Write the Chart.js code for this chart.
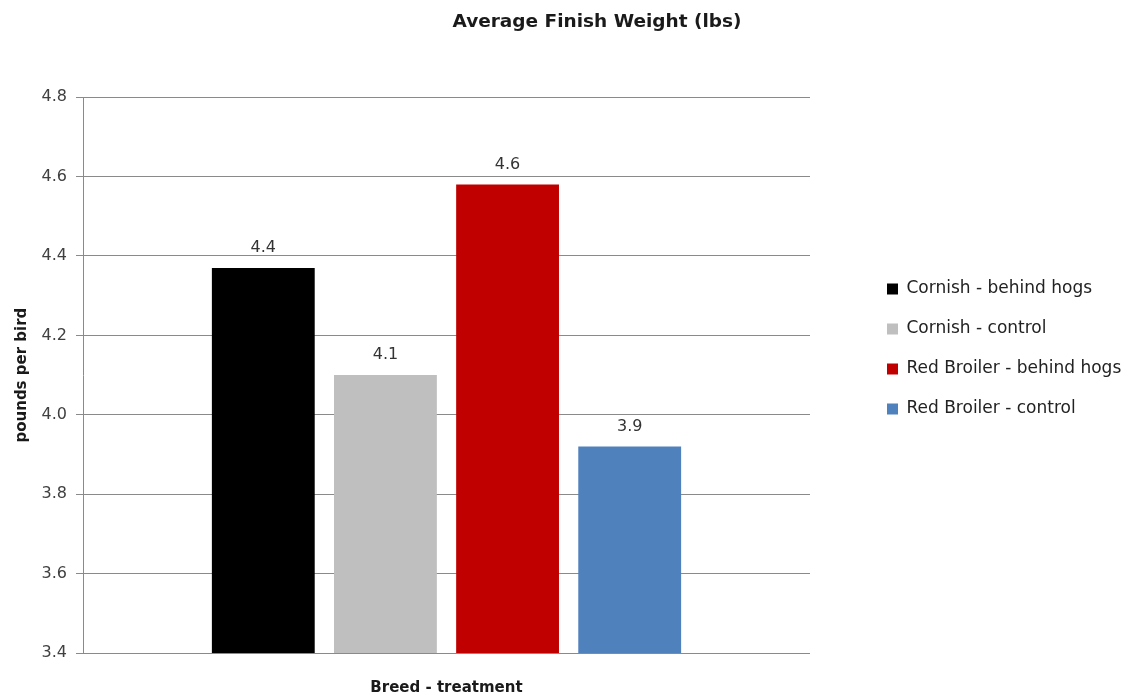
<!DOCTYPE html>
<html>
<head>
<meta charset="utf-8">
<script src="https://cdn.jsdelivr.net/npm/chart.js@4.4.1/dist/chart.umd.min.js"></script>
<style>
  html, body { margin: 0; padding: 0; background: #ffffff; }
  #wrap { width: 1126px; height: 698px; }
</style>
</head>
<body>
<div id="wrap"><canvas id="c" width="1126" height="698"></canvas></div>
<script>
// ---- data ----
const chartTitle = 'Average Finish Weight (lbs)';
const xAxisTitle = 'Breed - treatment';
const yAxisTitle = 'pounds per bird';
const categories = [''];
const seriesNames = ['Cornish - behind hogs', 'Cornish - control', 'Red Broiler - behind hogs', 'Red Broiler - control'];
const seriesValues = [4.37, 4.10, 4.58, 3.92];
const seriesColors = ['#000000', '#BFBFBF', '#C00000', '#4F81BD'];
const yTickValues = [3.4, 3.6, 3.8, 4.0, 4.2, 4.4, 4.6, 4.8];

const FONT = '"DejaVu Sans", Verdana, sans-serif';

const datasets = seriesNames.map((name, i) => ({
  label: name,
  data: [seriesValues[i]],
  backgroundColor: seriesColors[i],
  borderWidth: 0,
  categoryPercentage: 0.672,
  barPercentage: 0.842
}));

const valueLabels = {
  id: 'valueLabels',
  afterDatasetsDraw(chart) {
    const ctx = chart.ctx;
    ctx.save();
    ctx.font = '16px ' + FONT;
    ctx.fillStyle = '#333333';
    ctx.textAlign = 'center';
    ctx.textBaseline = 'middle';
    chart.data.datasets.forEach((ds, i) => {
      const meta = chart.getDatasetMeta(i);
      meta.data.forEach((bar, j) => {
        ctx.fillText(Number(ds.data[j]).toFixed(1), bar.x, bar.y - 20);
      });
    });
    ctx.restore();
  }
};

const titleShift = {
  id: 'titleShift',
  afterLayout(chart) {
    const t = chart.titleBlock;
    if (t) { t.left = 68; }
  }
};

new Chart(document.getElementById('c'), {
  type: 'bar',
  data: { labels: categories, datasets: datasets },
  plugins: [valueLabels, titleShift],
  options: {
    responsive: false,
    animation: false,
    devicePixelRatio: 1,
    layout: { padding: { left: 0, right: 0, top: 0, bottom: 0 } },
    plugins: {
      title: {
        display: true,
        text: chartTitle,
        color: '#1a1a1a',
        font: { family: FONT, size: 18.5, weight: 'bold' },
        padding: { top: 11, bottom: 64 }
      },
      legend: {
        position: 'right',
        align: 'center',
        maxWidth: 262,
        labels: {
          color: '#222222',
          font: { family: FONT, size: 17 },
          boxWidth: 11,
          boxHeight: 11,
          padding: 23
        }
      },
      tooltip: { enabled: false }
    },
    scales: {
      x: {
        grid: { display: false, drawTicks: false },
        border: { display: false },
        ticks: { display: false },
        title: {
          display: true,
          text: xAxisTitle,
          color: '#1a1a1a',
          font: { family: FONT, size: 15, weight: 'bold' },
          padding: { top: 0, bottom: 1 }
        },
        afterFit(scale) { scale.height = 45; }
      },
      y: {
        min: yTickValues[0],
        max: yTickValues[yTickValues.length - 1],
        afterBuildTicks(scale) { scale.ticks = yTickValues.map(v => ({ value: v })); },
        grid: { color: '#8a8a8a', lineWidth: 1, tickLength: 7 },
        border: { display: true, color: '#8a8a8a', width: 1 },
        ticks: {
          color: '#404040',
          font: { family: FONT, size: 16 },
          padding: 9,
          callback: (v) => Number(v).toFixed(1)
        },
        title: {
          display: true,
          text: yAxisTitle,
          color: '#1a1a1a',
          font: { family: FONT, size: 15, weight: 'bold' },
          padding: { top: 13, bottom: 0 }
        },
        afterFit(scale) { scale.width = 83; }
      },
      spacer: {
        type: 'linear',
        position: 'right',
        display: true,
        grid: { display: false, drawTicks: false },
        border: { display: false },
        ticks: { display: false },
        afterFit(scale) { scale.width = 54; }
      }
    }
  }
});
</script>
</body>
</html>
